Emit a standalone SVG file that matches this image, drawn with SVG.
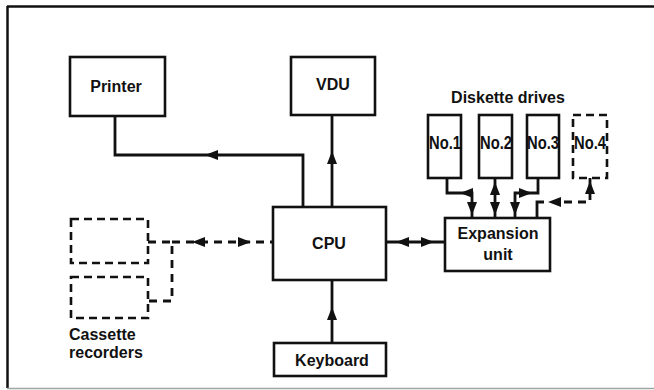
<svg xmlns="http://www.w3.org/2000/svg" xmlns:xlink="http://www.w3.org/1999/xlink" width="654" height="390" viewBox="0 0 654 390">
<style>
.box{fill:none;stroke:#111;stroke-width:2.6}
.dbox{fill:none;stroke:#111;stroke-width:2.6;stroke-dasharray:8,5}
.ln{fill:none;stroke:#111;stroke-width:2.8;stroke-linejoin:miter}
.dl{fill:none;stroke:#111;stroke-width:2.8;stroke-dasharray:8,6}
.t{font-family:"Liberation Sans",Arial,sans-serif;font-weight:bold;font-size:16px;fill:#111;text-anchor:middle}
.n{font-family:"Liberation Sans",Arial,sans-serif;font-weight:bold;font-size:19px;fill:#111;text-anchor:middle}
.ah{fill:#111}
</style>
<defs>
<path id="ah" d="M0,0 L-13,-5 L-13,5 Z"/>
</defs>
<rect width="654" height="390" fill="#fff"/>
<g id="frame">
<line x1="7" y1="6.5" x2="654" y2="6.5" stroke="#111" stroke-width="2.5"/>
<line x1="7.5" y1="6" x2="7.5" y2="388" stroke="#111" stroke-width="2.5"/>
<line x1="7" y1="388.5" x2="654" y2="388.5" stroke="#9aa8a0" stroke-width="1.5"/>
</g>
<g id="connectors">
<path class="ln" d="M115,116 V155 H303 V207"/>
<use xlink:href="#ah" class="ah" transform="translate(205,155) rotate(180)"/>
<path class="ln" d="M332,207 V115"/>
<use xlink:href="#ah" class="ah" transform="translate(332,151) rotate(-90)"/>
<path class="ln" d="M332,343 V280"/>
<use xlink:href="#ah" class="ah" transform="translate(332,307) rotate(-90)"/>
<path class="ln" d="M386,242 H445"/>
<use xlink:href="#ah" class="ah" transform="translate(396,242) rotate(180)"/>
<use xlink:href="#ah" class="ah" transform="translate(434,242)"/>
<path class="dl" d="M148,242 H172 V301 H148"/>
<path class="dl" d="M172,242 H273"/>
<use xlink:href="#ah" class="ah" transform="translate(192,242) rotate(180)"/>
<use xlink:href="#ah" class="ah" transform="translate(251,242)"/>
<path class="ln" d="M447,178 V193 H472 V218"/>
<use xlink:href="#ah" class="ah" transform="translate(460,193) rotate(180)"/>
<use xlink:href="#ah" class="ah" transform="translate(472,215) rotate(90)"/>
<path class="ln" d="M495,178 V218"/>
<use xlink:href="#ah" class="ah" transform="translate(495,182) rotate(-90)"/>
<use xlink:href="#ah" class="ah" transform="translate(495,215) rotate(90)"/>
<path class="ln" d="M538,178 V193 H515 V218"/>
<use xlink:href="#ah" class="ah" transform="translate(532,193)"/>
<use xlink:href="#ah" class="ah" transform="translate(515,215) rotate(90)"/>
<path class="dl" d="M590,178 V202 H556"/>
<path class="ln" d="M537,218 V202 H544"/>
<use xlink:href="#ah" class="ah" transform="translate(548,202) rotate(180)"/>
<use xlink:href="#ah" class="ah" transform="translate(590,181) rotate(-90)"/>
</g>
<g id="printer"><rect class="box" x="70" y="57" width="95" height="59"/><text class="t" x="116" y="92">Printer</text></g>
<g id="vdu"><rect class="box" x="291" y="57" width="84" height="58"/><text class="t" x="333" y="90">VDU</text></g>
<g id="cpu"><rect class="box" x="273" y="207" width="113" height="73"/><text class="t" x="329" y="249">CPU</text></g>
<g id="keyboard"><rect class="box" x="274" y="343" width="112" height="33"/><text class="t" x="332" y="366">Keyboard</text></g>
<g id="expansion"><rect class="box" x="445" y="218" width="105" height="53"/><text class="t" x="498" y="239">Expansion</text><text class="t" x="498" y="260">unit</text></g>
<g id="diskette-label"><text class="t" x="508" y="103">Diskette drives</text></g>
<g id="drive1"><rect class="box" x="428" y="115" width="33" height="63"/><text class="n" x="445" y="149" textLength="32" lengthAdjust="spacingAndGlyphs">No.1</text></g>
<g id="drive2"><rect class="box" x="479" y="115" width="33" height="63"/><text class="n" x="496" y="149" textLength="32" lengthAdjust="spacingAndGlyphs">No.2</text></g>
<g id="drive3"><rect class="box" x="527" y="115" width="32" height="63"/><text class="n" x="543" y="149" textLength="32" lengthAdjust="spacingAndGlyphs">No.3</text></g>
<g id="drive4"><rect class="dbox" x="573" y="115" width="34" height="63"/><text class="n" x="590" y="149" textLength="32" lengthAdjust="spacingAndGlyphs">No.4</text></g>
<g id="cassette1"><rect class="dbox" x="71" y="219" width="77" height="44"/></g>
<g id="cassette2"><rect class="dbox" x="71" y="277" width="77" height="41"/></g>
<g id="cassette-label"><text class="t" x="69" y="340" style="text-anchor:start">Cassette</text><text class="t" x="69" y="358" style="text-anchor:start">recorders</text></g>
</svg>
